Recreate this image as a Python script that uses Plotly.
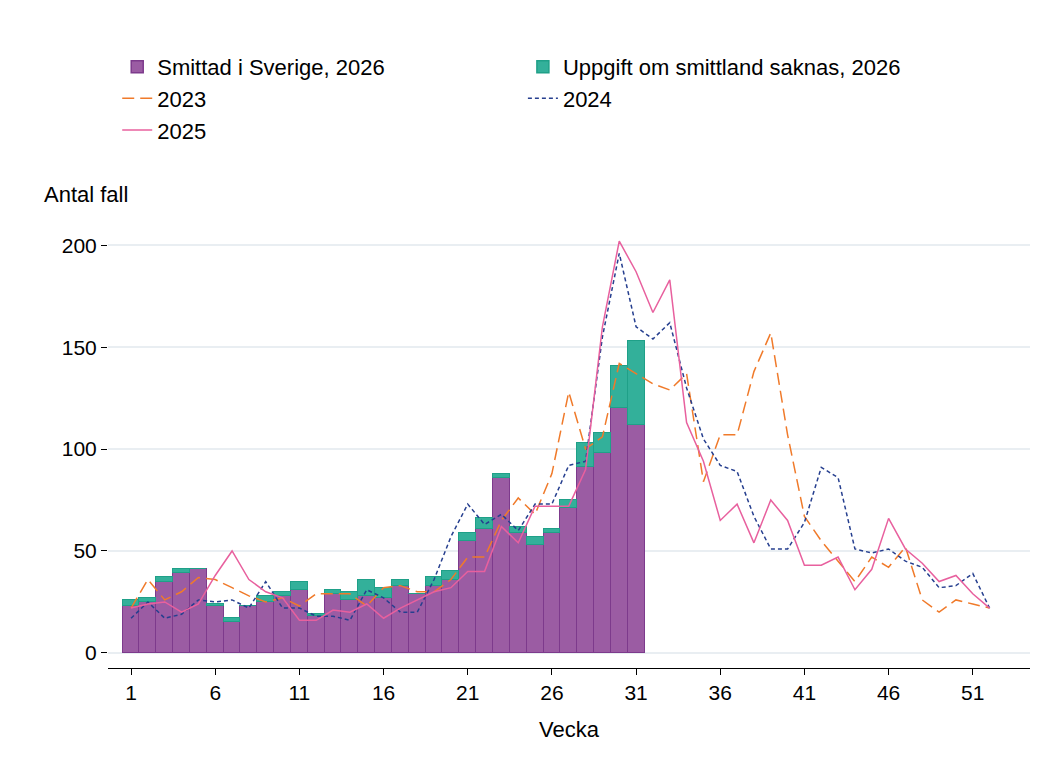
import plotly.graph_objects as go

weeks = list(range(1, 53))
weeks_2026 = list(range(1, 32))

smittad_sverige = [23, 25, 35, 39, 41, 23, 15, 23, 25, 28, 31, 18, 29, 26, 28, 27, 33, 29, 33, 36,
                   55, 61, 86, 59, 53, 59, 71, 91, 98, 120, 112]
totalt_2026 = [26, 27, 37, 41, 41, 24, 17, 23, 28, 30, 35, 19, 31, 30, 36, 32, 36, 29, 37, 40,
               59, 66, 88, 62, 57, 61, 75, 103, 108, 141, 153]
saknas = [t - s for t, s in zip(totalt_2026, smittad_sverige)]

y2023 = [22, 36, 26, 30, 37, 36, 32, 28, 25, 27, 23, 29, 29, 29, 23, 32, 33, 30, 30, 36,
         47, 47, 65, 76, 68, 88, 128, 100, 106, 142, 137, 132, 129, 137, 84, 107, 107, 138, 157, 107,
         67, 55, 45, 35, 47, 42, 52, 26, 20, 26, 24, 22]
y2024 = [17, 25, 17, 19, 26, 25, 26, 22, 35, 22, 22, 18, 18, 16, 31, 27, 20, 20, 36, 57,
         73, 63, 68, 60, 73, 73, 92, 94, 155, 196, 160, 154, 162, 130, 105, 92, 89, 67, 51, 51,
         64, 91, 86, 51, 49, 51, 45, 42, 32, 33, 39, 22]
y2025 = [22, 24, 25, 20, 24, 38, 50, 36, 30, 27, 16, 16, 21, 20, 24, 17, 22, 26, 30, 32,
         40, 40, 62, 54, 72, 72, 72, 90, 160, 202, 187, 167, 183, 113, 94, 65, 73, 54, 75, 65,
         43, 43, 47, 31, 41, 66, 51, 44, 35, 38, 29, 22]

fig = go.Figure()
fig.add_trace(go.Bar(x=weeks_2026, y=smittad_sverige, name="Smittad i Sverige, 2026",
                     marker=dict(color="#9b5ca3", line=dict(color="#7d3a8c", width=1.5))))
fig.add_trace(go.Bar(x=weeks_2026, y=saknas, name="Uppgift om smittland saknas, 2026",
                     marker=dict(color="#33b09a", line=dict(color="#1fa088", width=1.5))))
fig.add_trace(go.Scatter(x=weeks, y=y2023, name="2023", mode="lines",
                         line=dict(color="#f07a2a", width=1.5, dash="12px,6px")))
fig.add_trace(go.Scatter(x=weeks, y=y2024, name="2024", mode="lines",
                         line=dict(color="#263f8f", width=1.5, dash="4px,3px")))
fig.add_trace(go.Scatter(x=weeks, y=y2025, name="2025", mode="lines",
                         line=dict(color="#e8609e", width=1.5)))

fig.update_layout(
    width=1051, height=765,
    barmode="stack", bargap=0,
    plot_bgcolor="white", paper_bgcolor="white",
    font=dict(family="Liberation Sans, Arial", size=22, color="black"),
    margin=dict(l=100, r=29, t=225, b=105, autoexpand=False),
    showlegend=True,
    legend=dict(orientation="h", x=0.01, y=1.43, xanchor="left", yanchor="top",
                entrywidth=0.44, entrywidthmode="fraction", traceorder="normal",
                font=dict(size=22), tracegroupgap=0),
    xaxis=dict(range=[-0.37, 54.4], tickmode="array", tickvals=list(range(1, 53, 5)),
               showgrid=False, showline=True, linecolor="black", linewidth=1,
               ticks="outside", ticklen=6, tickcolor="black", automargin=False,
               tickfont=dict(size=21),
               title=dict(text="Vecka", standoff=18, font=dict(size=22))),
    yaxis=dict(range=[-7.4, 206], tickvals=[0, 50, 100, 150, 200],
               showgrid=True, gridcolor="#e9eef2", gridwidth=2, zeroline=False,
               showline=False, ticks="outside", ticklen=6, tickcolor="black",
               automargin=False, tickfont=dict(size=21)),
    annotations=[dict(text="Antal fall", xref="paper", yref="paper", x=-0.072, y=1.055,
                      xanchor="left", yanchor="bottom", showarrow=False, font=dict(size=22))],
)

fig.write_html("out.html")
